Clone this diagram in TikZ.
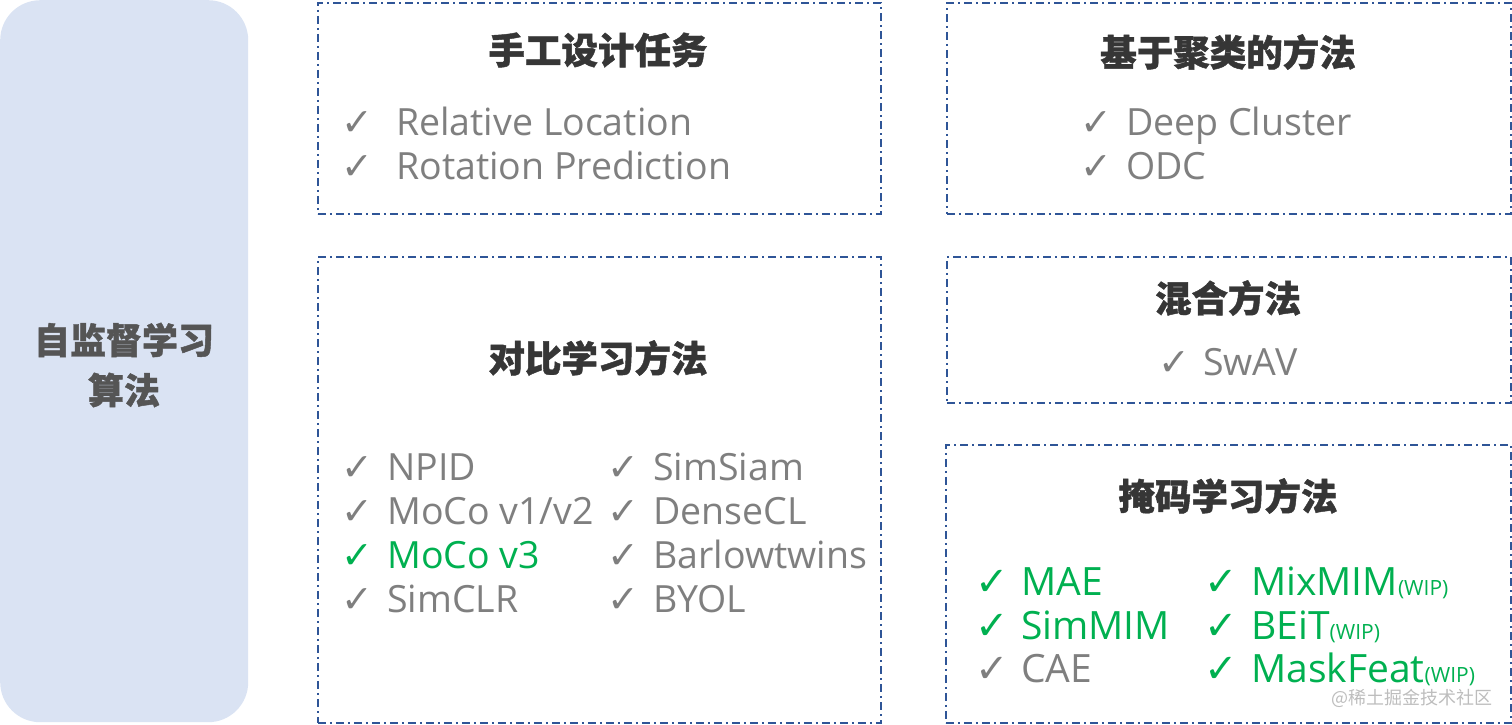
\documentclass[tikz,border=0pt]{standalone}
\usepackage{fontspec}
\setmainfont{Open Sans}
\newfontfamily\cjk{Noto Sans CJK SC}
\newfontfamily\cjkh{Noto Sans CJK SC}[BoldFeatures={FakeBold=1.2}]
\newfontfamily\chk{DejaVu Sans}
\definecolor{boxblue}{HTML}{2F5597}
\definecolor{panel}{HTML}{DAE3F3}
\definecolor{txtgray}{HTML}{7F7F7F}
\definecolor{mygreen}{HTML}{00B050}
\definecolor{titlegray}{HTML}{363636}
\definecolor{lefttxt}{HTML}{555555}
\definecolor{wmgray}{HTML}{BDBDBD}
\newcommand\wip{{\fontsize{21}{21}\selectfont(WIP)}}
\begin{document}
\begin{tikzpicture}[x=1pt,y=-1pt,
  dbox/.style={draw=boxblue, line width=1.5pt, dash pattern=on 8pt off 4pt on 2pt off 4pt, inner sep=0pt, anchor=north west},
  ttl/.style={font=\cjkh\bfseries\fontsize{36.5}{40}\selectfont, text=titlegray, inner sep=0pt},
  itemtxt/.style={anchor=base west, font=\fontsize{37.5}{40}\selectfont, text=txtgray, inner sep=0pt},
  chkmark/.style={anchor=base west, font=\chk\fontsize{38}{40}\selectfont, text=txtgray, inner sep=0pt},
  grn/.style={text=mygreen},
  bigtxt/.style={font=\fontsize{39}{42}\selectfont},
  bigchk/.style={font=\chk\fontsize{40}{42}\selectfont}
]
\useasboundingbox (0,0) rectangle (1512,724);
% left panel
\node[fill=panel, rounded corners=40pt, minimum width=248pt, minimum height=722pt, inner sep=0pt, anchor=north west] (panel) at (0,0) {};
\node[font=\cjkh\bfseries\fontsize{36}{50}\selectfont, text=lefttxt, align=center, inner sep=0pt] (ptitle) at (124,365) {自监督学习\\算法};
% boxes
\node[dbox, minimum width=563pt, minimum height=211pt] (b1) at (317,2) {};
\node[dbox, minimum width=563pt, minimum height=466pt] (b2) at (317,256) {};
\node[dbox, minimum width=564pt, minimum height=211pt] (b3) at (946,2) {};
\node[dbox, minimum width=564pt, minimum height=146pt] (b4) at (946,256) {};
\node[dbox, minimum width=565pt, minimum height=278pt] (b5) at (945,444) {};
% titles
\node[ttl] (t1) at (598,50) {手工设计任务};
\node[ttl] (t2) at (598,358) {对比学习方法};
\node[ttl] (t3) at (1228,52) {基于聚类的方法};
\node[ttl] (t4) at (1228,298) {混合方法};
\node[ttl] (t5) at (1228,496) {掩码学习方法};
% box 1
\node[chkmark] (c11) at (341,135) {✓};
\node[itemtxt] (i11) at (396,135) {Relative Location};
\node[chkmark] (c12) at (341,179) {✓};
\node[itemtxt] (i12) at (396,179) {Rotation Prediction};
% box 2
\node[chkmark] (c21) at (341,480) {✓};
\node[itemtxt] (i21) at (387,480) {NPID};
\node[chkmark] (c22) at (341,524) {✓};
\node[itemtxt] (i22) at (387,524) {MoCo v1/v2};
\node[chkmark, grn] (c23) at (341,568) {✓};
\node[itemtxt, grn] (i23) at (387,568) {MoCo v3};
\node[chkmark] (c24) at (341,612) {✓};
\node[itemtxt] (i24) at (387,612) {SimCLR};
\node[chkmark] (c25) at (607,480) {✓};
\node[itemtxt] (i25) at (653,480) {SimSiam};
\node[chkmark] (c26) at (607,524) {✓};
\node[itemtxt] (i26) at (653,524) {DenseCL};
\node[chkmark] (c27) at (607,568) {✓};
\node[itemtxt] (i27) at (653,568) {Barlowtwins};
\node[chkmark] (c28) at (607,612) {✓};
\node[itemtxt] (i28) at (653,612) {BYOL};
% box 3
\node[chkmark] (c31) at (1080,135) {✓};
\node[itemtxt] (i31) at (1126,135) {Deep Cluster};
\node[chkmark] (c32) at (1080,179) {✓};
\node[itemtxt] (i32) at (1126,179) {ODC};
% box 4
\node[chkmark] (c41) at (1158,375) {✓};
\node[itemtxt] (i41) at (1203,375) {SwAV};
% box 5
\node[chkmark, bigchk, grn] (c51) at (975,595) {✓};
\node[itemtxt, bigtxt, grn] (i51) at (1021,595) {MAE};
\node[chkmark, bigchk, grn] (c52) at (975,639) {✓};
\node[itemtxt, bigtxt, grn] (i52) at (1021,639) {SimMIM};
\node[chkmark, bigchk] (c53) at (975,682) {✓};
\node[itemtxt, bigtxt] (i53) at (1021,682) {CAE};
\node[chkmark, bigchk, grn] (c54) at (1204,595) {✓};
\node[itemtxt, bigtxt, grn] (i54) at (1251,595) {MixMIM\wip};
\node[chkmark, bigchk, grn] (c55) at (1204,639) {✓};
\node[itemtxt, bigtxt, grn] (i55) at (1251,639) {BEiT\wip};
\node[chkmark, bigchk, grn] (c56) at (1204,682) {✓};
\node[itemtxt, bigtxt, grn] (i56) at (1251,682) {MaskFeat\wip};
% watermark
\node[font=\cjk\fontsize{18}{20}\selectfont, text=wmgray, anchor=east, inner sep=0pt] (wm) at (1493,698) {@稀土掘金技术社区};
\end{tikzpicture}
\end{document}
